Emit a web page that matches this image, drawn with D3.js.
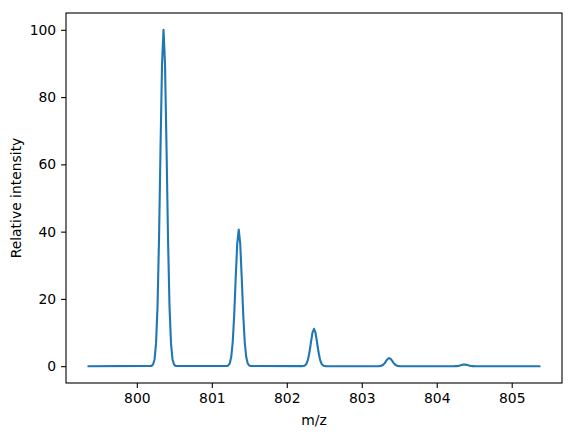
<!DOCTYPE html>
<html>
<head>
<meta charset="utf-8">
<script src="https://cdn.jsdelivr.net/npm/d3@7"></script>
<style>
  body { margin: 0; background: #fff; }
  svg { display: block; font-family: "DejaVu Sans", sans-serif; }
  .tick text { font-size: 13.9px; fill: #000; }
  .tick line { stroke: #000; stroke-width: 1.1px; }
</style>
</head>
<body>
<div id="chart"></div>
<script>
// isotope envelope
var peak_mz = [800.356, 801.359, 802.363, 803.366, 804.369];
var offsets = [-0.16, -0.14, -0.12, -0.10, -0.08, -0.06, -0.04, -0.02, 0, 0.02, 0.04, 0.06, 0.08, 0.10, 0.12, 0.14, 0.16];
var peak1 = [0.1, 0.5, 2.0, 6.7, 17.7, 37.8, 64.9, 89.7, 100, 89.7, 64.9, 37.8, 17.7, 6.7, 2.0, 0.5, 0.1];
var peak2 = [0.04, 0.2, 0.83, 2.72, 7.19, 15.35, 26.35, 36.42, 40.6, 36.42, 26.35, 15.35, 7.19, 2.72, 0.83, 0.2, 0.04];
var peak3 = [0.01, 0.06, 0.23, 0.74, 1.96, 4.2, 7.2, 9.96, 11.1, 9.96, 7.2, 4.2, 1.96, 0.74, 0.23, 0.06, 0.01];
var peak4 = [0, 0.01, 0.05, 0.16, 0.42, 0.91, 1.56, 2.15, 2.4, 2.15, 1.56, 0.91, 0.42, 0.16, 0.05, 0.01, 0];
var peak5 = [0, 0, 0.01, 0.03, 0.09, 0.19, 0.32, 0.45, 0.5, 0.45, 0.32, 0.19, 0.09, 0.03, 0.01, 0, 0];
var mz_start = 799.356, mz_end = 805.37;
var x_ticks = [800, 801, 802, 803, 804, 805];
var y_ticks = [0, 20, 40, 60, 80, 100];

var profiles = [peak1, peak2, peak3, peak4, peak5];
var trace = [{mz: mz_start, y: 0}];
peak_mz.forEach(function(c, i) {
	offsets.forEach(function(o, j) {
		trace.push({mz: c + o, y: profiles[i][j]});
	});
});
trace.push({mz: mz_end, y: 0});

// magic numbers
var margin = {top: 13, bottom: 53, left: 66, right: 13},
	width = 575 - margin.left - margin.right,
	height = 436 - margin.top - margin.bottom;

var svg = d3.select("#chart").append("svg")
		.attr("width", 575)
		.attr("height", 436)
	.append("g")
		.attr("transform", "translate(" + margin.left + ", " + margin.top + ")");

var span = mz_end - mz_start;
var xScale = d3.scaleLinear()
		.range([0, width])
		.domain([mz_start - span * 0.05, mz_end + span * 0.05]);

var yScale = d3.scaleLinear()
		.range([height, 0])
		.domain([-5, 105]);

var xAxis = d3.axisBottom(xScale)
		.tickValues(x_ticks)
		.tickFormat(d3.format("d"))
		.tickSize(4.9)
		.tickPadding(4.9);

var yAxis = d3.axisLeft(yScale)
		.tickValues(y_ticks)
		.tickFormat(d3.format("d"))
		.tickSize(4.9)
		.tickPadding(4.9);

var line = d3.line()
		.x(function(d) { return xScale(d.mz); })
		.y(function(d) { return yScale(d.y); });

svg.append("path")
		.datum(trace)
		.attr("d", line)
		.style("fill", "none")
		.style("stroke", "#1f77b4")
		.style("stroke-width", 2.1)
		.style("stroke-linejoin", "round")
		.style("stroke-linecap", "square");

var gx = svg.append("g")
		.attr("transform", "translate(0," + height + ")")
		.call(xAxis)
		.attr("font-family", null)
		.attr("font-size", null);
gx.select(".domain").remove();

var gy = svg.append("g")
		.call(yAxis)
		.attr("font-family", null)
		.attr("font-size", null);
gy.select(".domain").remove();

svg.append("rect")
		.attr("width", width)
		.attr("height", height)
		.style("fill", "none")
		.style("stroke", "#000")
		.style("stroke-width", 1.1);

svg.append("text")
		.attr("x", width / 2)
		.attr("y", height + 42)
		.attr("text-anchor", "middle")
		.style("font-size", "13.9px")
		.text("m/z");

svg.append("text")
		.attr("transform", "translate(" + (-45) + "," + (height / 2) + ") rotate(-90)")
		.attr("text-anchor", "middle")
		.style("font-size", "13.9px")
		.text("Relative intensity");
</script>
</body>
</html>
